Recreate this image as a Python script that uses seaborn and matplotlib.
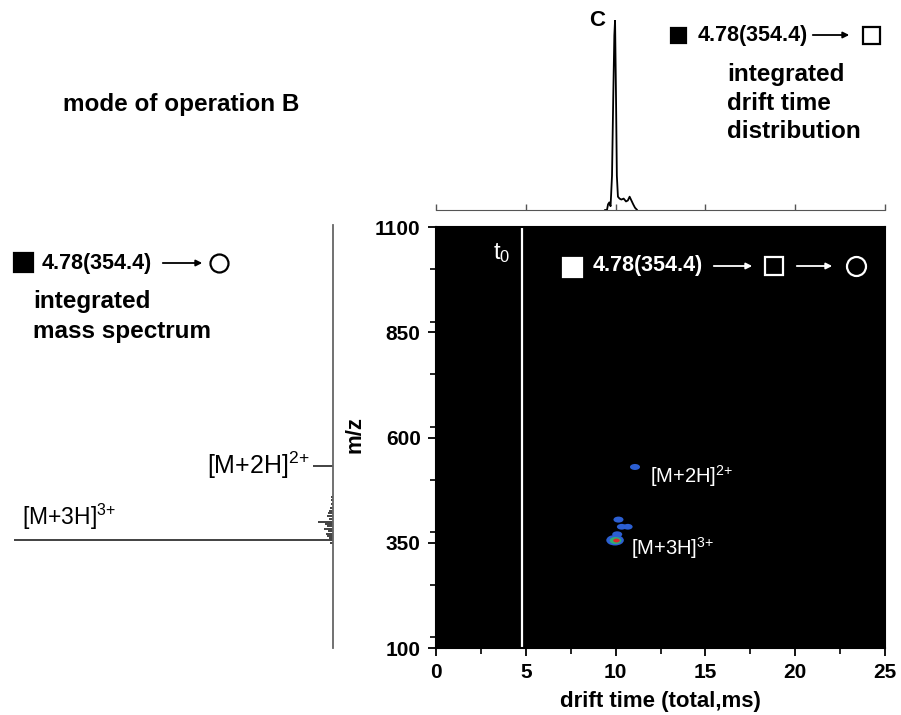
import numpy as np
import pandas as pd
import seaborn as sns
import matplotlib.pyplot as plt
from matplotlib.path import Path
from matplotlib.transforms import Affine2D
from matplotlib.lines import Line2D
from matplotlib.patches import FancyArrowPatch
from matplotlib.ticker import MultipleLocator


# integrated drift time distribution (top trace)
drift_t = [9.40, 9.52, 9.58, 9.65, 9.72, 9.80, 9.87, 9.93, 9.97, 10.02, 10.07, 10.13,
           10.22, 10.32, 10.45, 10.58, 10.68, 10.78, 10.88, 10.98, 11.08, 11.20]
drift_i = [0.0, 0.0, 0.03, 0.04, 0.02, 0.18, 0.60, 0.92, 1.0, 0.62, 0.18, 0.07,
           0.06, 0.055, 0.06, 0.045, 0.05, 0.07, 0.05, 0.03, 0.012, 0.0]

# integrated mass spectrum (left, sticks)
ms_mz = [458, 450, 441, 432, 425, 418, 412, 405, 398, 393, 388, 382, 376, 370,
         364, 359, 354.4, 349, 531.1]
ms_int = [0.005, 0.006, 0.006, 0.009, 0.013, 0.016, 0.019, 0.013, 0.047, 0.025,
          0.019, 0.028, 0.016, 0.022, 0.019, 0.013, 1.0, 0.009, 0.063]

# 2D drift time / m/z map spots
spot_t = [11.08, 10.16, 10.34, 10.68, 10.09, 9.97]
spot_mz = [530, 405, 388, 388, 370, 356]
spot_int = [0.25, 0.25, 0.22, 0.22, 0.25, 1.0]

t0 = 4.78
x_ticks = [0, 5, 10, 15, 20, 25]
y_ticks = [100, 350, 600, 850, 1100]

W, H = 901, 715

sns.set_style('white')
plt.rcParams['font.family'] = ['Liberation Sans', 'DejaVu Sans']
plt.rcParams['mathtext.fontset'] = 'custom'
plt.rcParams['mathtext.rm'] = 'Liberation Sans'
plt.rcParams['mathtext.bf'] = 'Liberation Sans:bold'
plt.rcParams['mathtext.it'] = 'Liberation Sans:italic'
plt.rcParams['text.color'] = 'black'
plt.rcParams['axes.labelcolor'] = 'black'
plt.rcParams['xtick.color'] = 'black'
plt.rcParams['ytick.color'] = 'black'

fig = plt.figure(figsize=(W / 100, H / 100), dpi=100)


def box(l, t, r, b):
    return [l / W, 1 - b / H, (r - l) / W, (b - t) / H]


def txt(x, y, s, **kw):
    fig.text(x / W, 1 - y / H, s, **kw)


def mark(x, y, marker, size, filled=True, color='black'):
    fig.add_artist(Line2D([x / W], [1 - y / H], marker=marker, markersize=size * 0.72,
                          markerfacecolor=color if filled else 'none',
                          markeredgecolor=color, markeredgewidth=1.6,
                          transform=fig.transFigure))


def arrow(x1, x2, y, color='black'):
    fig.add_artist(FancyArrowPatch((x1 / W, 1 - y / H), (x2 / W, 1 - y / H),
                                   transform=fig.transFigure, arrowstyle='-|>',
                                   mutation_scale=9, lw=1.3, color=color))


# main map
ax = fig.add_axes(box(436, 227, 885, 648))
ax.set_facecolor('black')
ell = Path.unit_circle().transformed(Affine2D().scale(1, 0.6))
spots = pd.DataFrame({'t': spot_t, 'mz': spot_mz, 'int': spot_int})
sns.scatterplot(data=spots, x='t', y='mz', size='int', sizes=(48, 160), marker=ell,
                color='#2c5fd2', linewidth=0, legend=False, ax=ax)
hot = spots[spots['int'] > 0.5]
sns.scatterplot(data=hot, x='t', y='mz', s=70, marker=ell, color='#2fb070',
                linewidth=0, legend=False, ax=ax)
sns.scatterplot(data=hot, x=hot['t'] + 0.07, y='mz', s=22, marker=ell, color='#e0262a',
                linewidth=0, legend=False, ax=ax)
ax.axvline(t0, color='white', lw=1.6)
ax.set_xlim(0, 25)
ax.set_ylim(100, 1100)
ax.set_xticks(x_ticks)
ax.set_yticks(y_ticks)
ax.xaxis.set_minor_locator(MultipleLocator(2.5))
ax.yaxis.set_minor_locator(MultipleLocator(125))
ax.tick_params(which='major', direction='out', length=6, width=1.3, labelsize=15, pad=5,
               bottom=True, left=True)
ax.tick_params(which='minor', direction='out', length=4, width=1.2, bottom=True, left=True)
for lab in ax.get_xticklabels() + ax.get_yticklabels():
    lab.set_fontweight('bold')
for sp in ax.spines.values():
    sp.set_color('black')
    sp.set_linewidth(1.5)
ax.set_xlabel('drift time (total,ms)', fontsize=16, fontweight='bold', labelpad=6)
ax.set_ylabel('')

# top: drift time distribution
axt = fig.add_axes(box(436, 20, 885, 210))
sns.lineplot(x=drift_t, y=drift_i, color='black', lw=1.3, ax=axt)
axt.set_xlim(0, 25)
axt.set_ylim(0, 1)
axt.set_xticks(x_ticks)
axt.set_yticks([])
axt.tick_params(axis='x', direction='in', length=4, width=1, color='#555555',
                labelbottom=False, bottom=True)
for k in ['top', 'left', 'right']:
    axt.spines[k].set_visible(False)
axt.spines['bottom'].set_color('#555555')
axt.patch.set_alpha(0)

# left: mass spectrum (intensity to the left)
axl = fig.add_axes(box(14, 225, 333, 648))
axl.hlines(ms_mz, 0, ms_int, color='#333333', lw=1.3)
axl.set_xlim(1.0, 0)
axl.set_ylim(100, 1100)
axl.set_xticks([])
axl.set_yticks([])
for k in ['top', 'left', 'bottom']:
    axl.spines[k].set_visible(False)
axl.spines['right'].set_color('#666666')
axl.spines['right'].set_linewidth(1.3)
axl.patch.set_alpha(0)

# texts
txt(63, 105, 'mode of operation B', fontsize=17.5, fontweight='bold', va='center')
txt(597, 20, 'C', fontsize=16, fontweight='bold', ha='center', va='center')

mark(677.5, 34.5, 's', 15)
txt(698, 35, '4.78(354.4)', fontsize=15.5, fontweight='bold', va='center')
arrow(810, 852, 35)
mark(870.5, 35, 's', 17, filled=False)
txt(727, 81, 'integrated', fontsize=17.5, fontweight='bold', va='baseline')
txt(727, 110, 'drift time', fontsize=17.5, fontweight='bold', va='baseline')
txt(727, 138, 'distribution', fontsize=17.5, fontweight='bold', va='baseline')

mark(23, 262.5, 's', 19)
txt(42, 263, '4.78(354.4)', fontsize=15.5, fontweight='bold', va='center')
arrow(160, 205, 263)
mark(219, 263, 'o', 18, filled=False)
txt(33, 308, 'integrated', fontsize=17.5, fontweight='bold', va='baseline')
txt(33, 338, 'mass spectrum', fontsize=17.5, fontweight='bold', va='baseline')

txt(207, 465, r'$\mathrm{[M{+}2H]^{2{+}}}$', fontsize=18, va='center')
txt(22, 517, r'$\mathrm{[M{+}3H]^{3{+}}}$', fontsize=16.5, va='center')
txt(355, 435, 'm/z', fontsize=16, fontweight='bold', rotation=90, ha='center', va='center')

# labels inside the map
mark(571.5, 266.5, 's', 19, color='white')
txt(593, 266, '4.78(354.4)', fontsize=15.5, fontweight='bold', va='center', color='white')
arrow(711, 755, 266, color='white')
mark(774, 266, 's', 18, filled=False, color='white')
arrow(794, 835, 266, color='white')
mark(855.5, 266, 'o', 19, filled=False, color='white')
txt(493, 265, r'$\mathrm{t_0}$', fontsize=17, color='white', va='bottom')
txt(650, 476, r'$\mathrm{[M{+}2H]^{2{+}}}$', fontsize=14.5, va='center', color='white')
txt(631, 548, r'$\mathrm{[M{+}3H]^{3{+}}}$', fontsize=14.5, va='center', color='white')

fig.savefig('out.png', dpi=100)
